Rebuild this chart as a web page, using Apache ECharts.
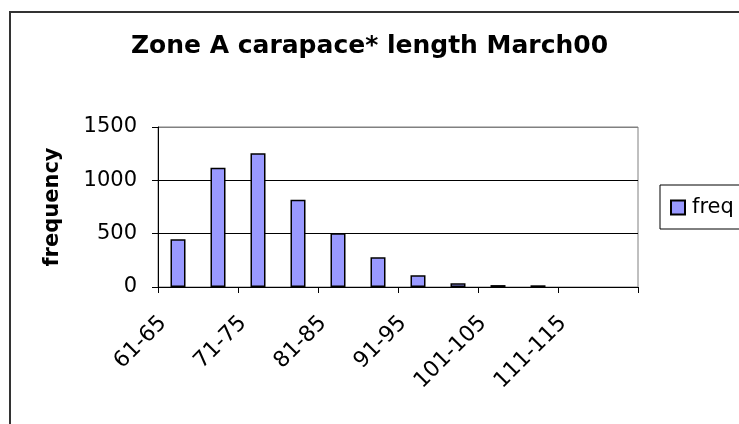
<!DOCTYPE html>
<html>
<head>
<meta charset="utf-8">
<script src="https://cdn.jsdelivr.net/npm/echarts@6/dist/echarts.min.js"></script>
<style>
  html, body { margin: 0; padding: 0; background: #fff; }
  #echart { width: 739px; height: 424px; }
</style>
</head>
<body>
<div id="echart"></div>
<script>
var categories = ['61-65', '66-70', '71-75', '76-80', '81-85', '86-90', '91-95', '96-100', '101-105', '106-110', '111-115', '116-120'];
var freq = [447, 1119, 1253, 819, 503, 278, 109, 34, 18, 16, 0, 0];
var yTicks = [0, 500, 1000, 1500];

var font = 'DejaVu Sans';

var option = {
    backgroundColor: '#fff',
    animation: false,
    title: {
        text: 'Zone A carapace* length March00',
        left: 'center',
        top: 29,
        textStyle: { fontFamily: font, fontSize: 25, fontWeight: 'bold', color: '#000' }
    },
    graphic: [{
        type: 'rect',
        shape: { x: 10, y: 12, width: 800, height: 500 },
        style: { fill: 'none', stroke: '#333', lineWidth: 2 },
        silent: true
    }],
    legend: {
        left: 660,
        top: 185,
        orient: 'vertical',
        padding: [12, 20, 11, 10],
        borderColor: '#000',
        borderWidth: 1,
        icon: 'rect',
        itemWidth: 14,
        itemHeight: 14,
        textStyle: { fontFamily: font, fontSize: 21, color: '#000', padding: [0, 0, 0, 2] },
        data: ['freq']
    },
    grid: {
        left: 158,
        right: 101,
        top: 127,
        bottom: 137,
        show: true,
        borderColor: '#808080',
        borderWidth: 1,
        backgroundColor: '#fff'
    },
    xAxis: {
        type: 'category',
        data: categories,
        axisLine: { lineStyle: { color: '#000', width: 1 } },
        axisTick: { show: true, length: 6, lineStyle: { color: '#000' } },
        axisLabel: {
            interval: 1,
            rotate: 45,
            margin: 18,
            padding: [0, 21, 0, 0],
            fontFamily: font,
            fontSize: 22,
            color: '#000'
        }
    },
    yAxis: {
        type: 'value',
        min: yTicks[0],
        max: yTicks[yTicks.length - 1],
        interval: 500,
        name: 'frequency',
        nameLocation: 'middle',
        nameRotate: 90,
        nameGap: 95,
        nameTextStyle: { fontFamily: font, fontSize: 21, fontWeight: 'bold', color: '#000' },
        axisLine: { show: true, lineStyle: { color: '#000', width: 1 } },
        axisTick: { show: true, length: 6, lineStyle: { color: '#000' } },
        axisLabel: {
            margin: 21, fontFamily: font, fontSize: 21, color: '#000',
            formatter: function (v) { return String(v); }
        },
        splitLine: { show: true, lineStyle: { color: ['#000', '#000', '#000', '#808080'], width: 1 } }
    },
    series: [{
        name: 'freq',
        type: 'bar',
        // empty classes are left out so no zero-height outline is drawn
        data: freq.map(function (v) { return v === 0 ? null : v; }),
        barWidth: 15,
        itemStyle: { color: '#9999FF', borderColor: '#000', borderWidth: 1.5 }
    }]
};

var chart = echarts.init(document.getElementById('echart'));
chart.setOption(option);
</script>
</body>
</html>
